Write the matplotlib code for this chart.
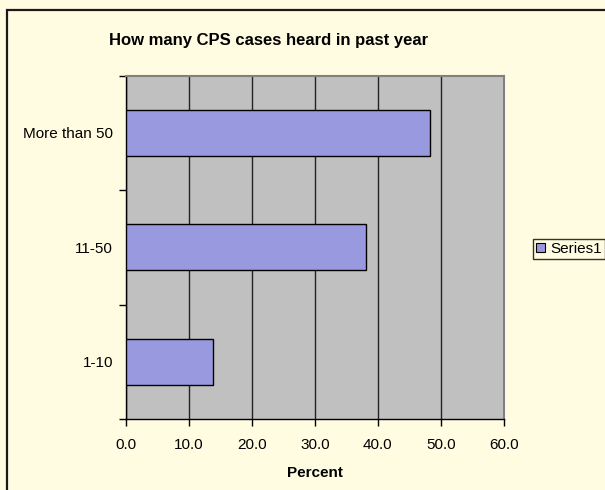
import matplotlib
matplotlib.use("Agg")
import matplotlib.pyplot as plt
from matplotlib.patches import Rectangle, Patch

categories = ["1-10", "11-50", "More than 50"]
values = [13.9, 38.1, 48.2]
xticks = [0, 10, 20, 30, 40, 50, 60]
series_name = "Series1"

bg = "#FFFCE1"
plt.rcParams['font.family'] = ['Liberation Sans', 'DejaVu Sans']

W, H = 605, 490
fig = plt.figure(figsize=(W/100, H/100), dpi=100, facecolor=bg)

# outer chart border
fig.patches.append(Rectangle((7/W, -0.05), 1.2, (H-10)/H + 0.05, transform=fig.transFigure,
                             fill=False, edgecolor="#1a1a1a", linewidth=1.6))

ax = fig.add_axes([125.7/W, 1-419/H, (504-125.7)/W, (419-75.7)/H])
ax.set_facecolor("#C0C0C0")
ypos = list(range(len(categories)))
ax.barh(ypos, values, height=0.4, color="#9999E0", edgecolor="black", linewidth=1.0, zorder=3)
ax.set_xlim(0, 60)
ax.set_ylim(-0.5, len(categories) - 0.5)
ax.set_xticks(xticks)
ax.set_xticklabels([f"{v:.1f}" for v in xticks], fontsize=11)
ax.set_yticks(ypos)
ax.set_yticklabels(categories, fontsize=11)
ax.tick_params(axis='y', which='major', length=0, pad=9)
ax.set_yticks([i - 0.5 for i in range(len(categories) + 1)], minor=True)
ax.tick_params(axis='y', which='minor', length=5, width=1, direction='out')
ax.tick_params(axis='x', length=5, width=1, direction='out', pad=8.5)
ax.grid(axis='x', color="#222222", linewidth=1.0, zorder=1)
for s in ['left', 'bottom']:
    ax.spines[s].set_color("black")
    ax.spines[s].set_linewidth(1.0)
for s in ['top', 'right']:
    ax.spines[s].set_color("#808080")
    ax.spines[s].set_linewidth(1.5)
ax.set_xlabel("Percent", fontsize=11, fontweight='bold', labelpad=10)

fig.text(0.5 * (110 + 428) / W, 1 - 41/H, "How many CPS cases heard in past year",
         ha='center', va='center', fontsize=12, fontweight='bold')

leg = fig.legend(handles=[Patch(facecolor="#9999E0", edgecolor="black", linewidth=0.8, label=series_name)],
                 loc='center left', bbox_to_anchor=(533/W, 1 - 249/H), fontsize=11,
                 frameon=True, fancybox=False, edgecolor="black", facecolor=bg,
                 handlelength=0.6, handleheight=0.6, handletextpad=0.35, borderpad=0.2,
                 borderaxespad=0)
leg.get_frame().set_linewidth(1.0)

fig.savefig("out.png", dpi=100, facecolor=bg)
